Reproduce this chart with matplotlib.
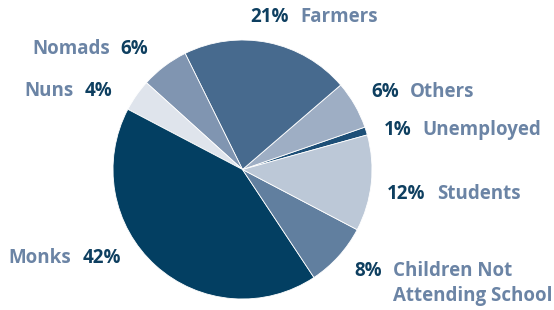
import matplotlib.pyplot as plt

# slices, counterclockwise starting from the right
categories = ["Unemployed", "Others", "Farmers", "Nomads", "Nuns", "Monks",
              "Children Not\nAttending School", "Students"]
shares = [1, 6, 21, 6, 4, 42, 8, 12]
colors = ["#1d4f77", "#9eaec4", "#476a8e", "#8095b1", "#dfe4ec", "#033f62",
          "#617f9f", "#bcc8d7"]

PCT_COLOR = "#0e3f60"
NAME_COLOR = "#6b84a5"
W, H = 554, 310

plt.rcParams['font.family'] = ['Open Sans', 'DejaVu Sans']

fig = plt.figure(figsize=(W / 100, H / 100), dpi=100)

# pie placed in pixel space: center (242.5, 169.5), radius 129.5
cx, cy, r = 242.5, 169.5, 129.5
ax = fig.add_axes([(cx - r) / W, (H - cy - r) / H, 2 * r / W, 2 * r / H])
ax.pie(shares, colors=colors, startangle=15.5, counterclock=True,
       wedgeprops=dict(edgecolor="white", linewidth=0.6))
ax.set_xlim(-1, 1)
ax.set_ylim(-1, 1)
ax.set_aspect("auto")
ax.axis("off")


def px(x, y):
    return x / W, 1 - y / H


fs = 13.5
# (percent-first labels) left x of pct, left x of name, y center
for name, pct_x, name_x, y in [("Farmers", 250, 300, 17),
                               ("Others", 371, 410, 92),
                               ("Unemployed", 384, 422, 130),
                               ("Students", 387, 437, 194),
                               ("Children Not\nAttending School", 354, 393, 271)]:
    val = shares[categories.index(name)]
    fig.text(*px(pct_x, y), f"{val}%", color=PCT_COLOR, fontsize=fs,
             fontweight="bold", ha="left", va="center")
    lines = name.split("\n")
    for i, line in enumerate(lines):
        fig.text(*px(name_x, y + 25 * i), line, color=NAME_COLOR, fontsize=fs,
                 fontweight="bold", ha="left", va="center")

# (name-first labels) right x of name, right x of pct, y center
for name, name_r, pct_r, y in [("Nomads", 110, 148, 49),
                               ("Nuns", 74, 112, 91),
                               ("Monks", 71, 121, 258)]:
    val = shares[categories.index(name)]
    fig.text(*px(name_r, y), name, color=NAME_COLOR, fontsize=fs,
             fontweight="bold", ha="right", va="center")
    fig.text(*px(pct_r, y), f"{val}%", color=PCT_COLOR, fontsize=fs,
             fontweight="bold", ha="right", va="center")

fig.savefig("out.png", dpi=100)
